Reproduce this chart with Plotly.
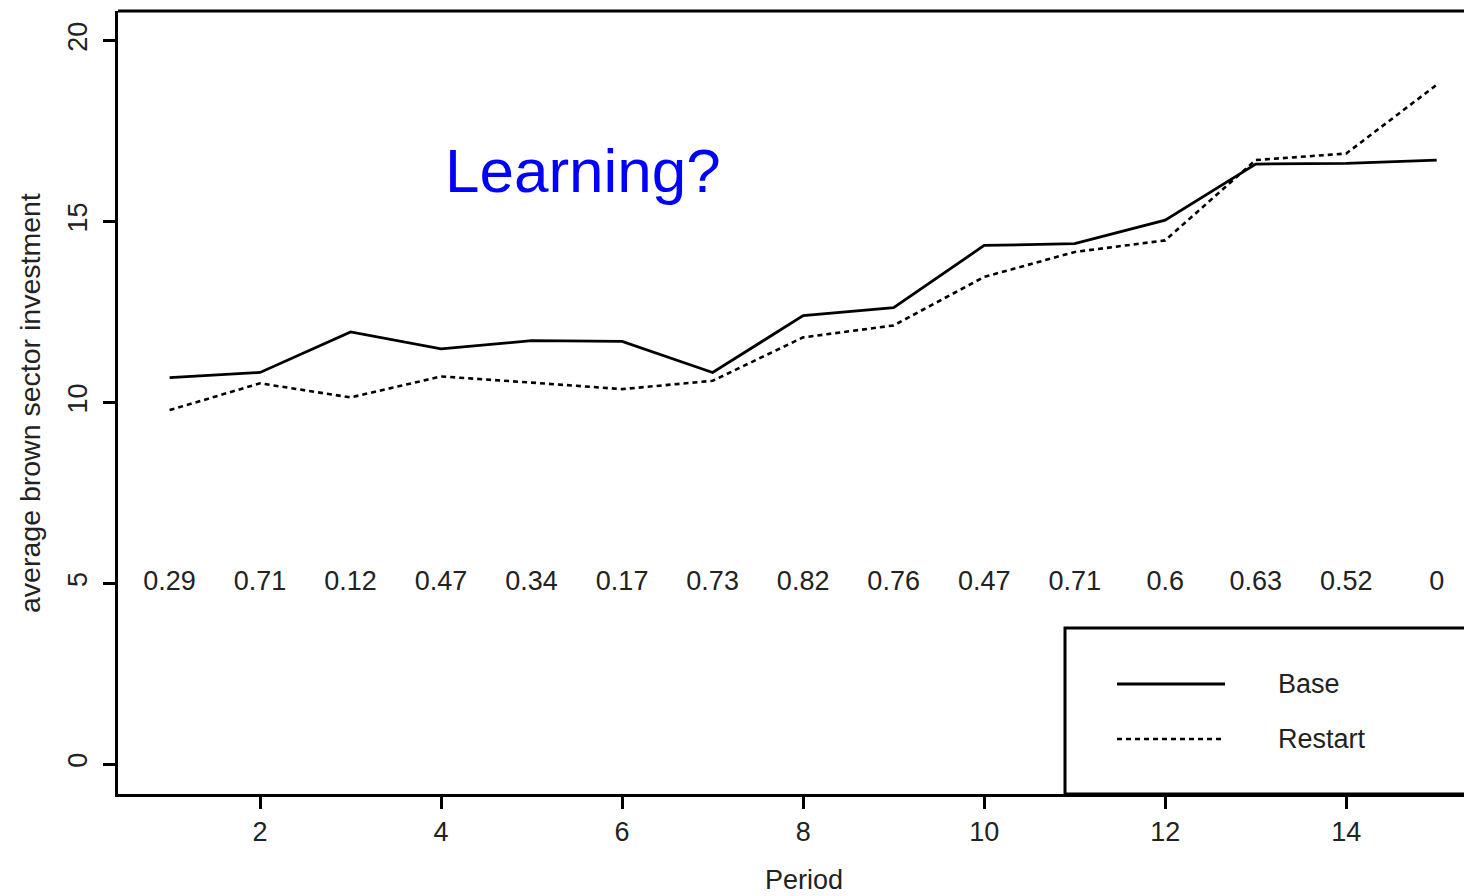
import plotly.graph_objects as go

periods = list(range(1, 16))
base = [10.69, 10.83, 11.95, 11.48, 11.71, 11.69, 10.83, 12.40, 12.62, 14.34, 14.39, 15.04, 16.59, 16.61, 16.70]
restart = [9.79, 10.53, 10.14, 10.72, 10.55, 10.37, 10.60, 11.80, 12.13, 13.47, 14.16, 14.48, 16.70, 16.88, 18.78]
p_labels = ["0.29", "0.71", "0.12", "0.47", "0.34", "0.17", "0.73", "0.82", "0.76", "0.47", "0.71", "0.6", "0.63", "0.52", "0"]
label_y = [5] * len(periods)
x_ticks = [2, 4, 6, 8, 10, 12, 14]
y_ticks = [0, 5, 10, 15, 20]

FONT = "Liberation Sans, Arial, sans-serif"
TXT = "#222222"
DOT = "5px,4px"

fig = go.Figure()
fig.add_trace(go.Scatter(x=periods, y=base, mode="lines", name="Base",
                         line=dict(color="black", width=2.8), showlegend=False))
fig.add_trace(go.Scatter(x=periods, y=restart, mode="lines", name="Restart",
                         line=dict(color="black", width=2.6, dash=DOT), showlegend=False))
fig.add_trace(go.Scatter(x=periods, y=label_y, mode="text", text=p_labels,
                         textfont=dict(family=FONT, size=27, color=TXT),
                         textposition="middle center", showlegend=False,
                         hoverinfo="skip"))

OFF = 8  # page body margin in the browser
W, H = 1472 - OFF, 896 - OFF
L, R, T = 118 - OFF, 0, 11 - OFF
B = H - (794 - OFF)
pw, ph = W - L - R, H - T - B

def px(xp):
    return (xp - OFF - L) / pw

def py(yp):
    return (H - B - (yp - OFF)) / ph

shapes = [
    dict(type="line", xref="paper", yref="paper", x0=0, x1=1.02, y0=1, y1=1,
         line=dict(color="black", width=3)),
    dict(type="rect", xref="paper", yref="paper", x0=px(1065), x1=1.05, y0=0, y1=py(628),
         line=dict(color="black", width=3), fillcolor="white", layer="below"),
    dict(type="line", xref="paper", yref="paper", x0=px(1117), x1=px(1225), y0=py(684), y1=py(684),
         line=dict(color="black", width=2.8)),
    dict(type="line", xref="paper", yref="paper", x0=px(1117), x1=px(1225), y0=py(739), y1=py(739),
         line=dict(color="black", width=2.6, dash=DOT)),
]

annotations = [
    dict(text="Learning?", xref="paper", yref="paper", x=px(583), y=py(170),
         xanchor="center", yanchor="middle", showarrow=False,
         font=dict(family=FONT, size=62, color="#0000FF")),
    dict(text="Base", xref="paper", yref="paper", x=px(1276), y=py(684),
         xanchor="left", yanchor="middle", showarrow=False,
         font=dict(family=FONT, size=27, color=TXT)),
    dict(text="Restart", xref="paper", yref="paper", x=px(1276), y=py(739),
         xanchor="left", yanchor="middle", showarrow=False,
         font=dict(family=FONT, size=27, color=TXT)),
    dict(text="Period", xref="paper", yref="paper", x=px(804), y=py(880),
         xanchor="center", yanchor="middle", showarrow=False,
         font=dict(family=FONT, size=27, color=TXT)),
    dict(text="average brown sector investment", xref="paper", yref="paper",
         x=px(30), y=py(403), xanchor="center", yanchor="middle", textangle=-90,
         showarrow=False, font=dict(family=FONT, size=28.5, color=TXT)),
]

fig.update_layout(
    width=W, height=H,
    margin=dict(l=L, r=R, t=T, b=B),
    paper_bgcolor="white", plot_bgcolor="white",
    shapes=shapes, annotations=annotations,
    font=dict(family=FONT, size=27, color=TXT),
    xaxis=dict(range=[0.43, 15.39], tickvals=x_ticks, ticktext=[str(v) for v in x_ticks],
               showgrid=False, zeroline=False, showline=True, linecolor="black", linewidth=3,
               ticks="outside", ticklen=12, tickwidth=2.5, tickcolor="black",
               ticklabelstandoff=0, tickfont=dict(family=FONT, size=27, color=TXT)),
    yaxis=dict(range=[-0.82, 20.82], tickvals=y_ticks, ticktext=[str(v) for v in y_ticks],
               showgrid=False, zeroline=False, showline=True, linecolor="black", linewidth=3,
               ticks="outside", ticklen=12, tickwidth=2.5, tickcolor="black",
               tickangle=-90, ticklabelstandoff=5,
               tickfont=dict(family=FONT, size=27, color=TXT)),
)

fig.write_html("out.html")
